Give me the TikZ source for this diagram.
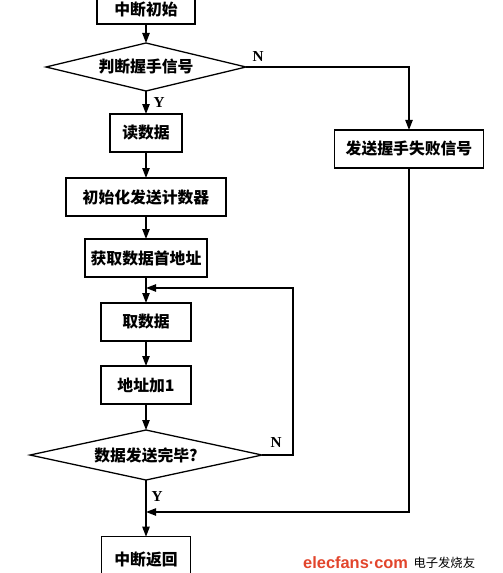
\documentclass[tikz,border=0pt]{standalone}
\usepackage{fontspec}
\setmainfont{Noto Sans CJK SC}
\newfontfamily\yn{Liberation Serif}
\newfontfamily\wmfont{Liberation Sans}
\usepackage{xcolor}
\usepackage{tikz}
\usetikzlibrary{positioning, arrows.meta, shapes.geometric, calc}

\definecolor{wmred}{HTML}{E2452C}

\begin{document}
\begin{tikzpicture}[
  x=0.03cm, y=-0.03cm,
  node distance=7.5mm,
  font=\fontsize{13.5}{15}\selectfont\bfseries,
  box/.style={draw, line width=1.1pt, align=center, inner sep=3pt, outer sep=0pt, minimum height=1.14cm},
  dec/.style={draw, diamond, aspect=4, line width=1.1pt, align=center, inner sep=0pt, outer sep=0pt},
  yn/.style={font=\yn\fontsize{13}{15}\selectfont\bfseries},
  arr/.style={-{Triangle[length=3mm, width=2.2mm]}, line width=1.1pt},
  ln/.style={line width=1.1pt}
]
\useasboundingbox (0,0) rectangle (502,573);

% Main column
\node[box, minimum width=2.94cm, minimum height=0.84cm] (start) at (146,10) {中断初始};
\node[dec, minimum width=6cm, minimum height=1.44cm, below=5.7mm of start] (hand) {判断握手信号};
\node[box, minimum width=2.16cm, below=6.9mm of hand] (read) {读数据};
\node[box, minimum width=4.8cm, below=7.8mm of read] (init) {初始化发送计数器};
\node[box, minimum width=3.66cm, below=6.9mm of init] (addr) {获取数据首地址};
\node[box, minimum width=2.7cm, below=7.8mm of addr] (fetch) {取数据};
\node[box, minimum width=2.7cm, below=7.5mm of fetch] (inc) {地址加1};
\node[dec, minimum width=6.96cm, minimum height=1.5cm, below=7.8mm of inc] (done) {数据发送完毕?};
\node[box, minimum width=2.67cm, minimum height=1.35cm, below=17mm of done] (ret) {中断返回};

% Failure branch
\node[box, minimum width=4.47cm] (fail) at (409,149) {发送握手失败信号};

% Join points
\coordinate (loop) at (addr.south |- 0,288);
\coordinate (merge) at (done.south |- 0,512);

% Main links
\draw[arr] (start) -- (hand);
\draw[arr] (hand) -- (read);
\draw[arr] (read) -- (init);
\draw[arr] (init) -- (addr);
\draw[arr] (addr) -- (fetch);
\draw[arr] (fetch) -- (inc);
\draw[arr] (inc) -- (done);
\draw[arr] (done) -- (ret);

% Branches
\draw[arr] (hand.east) -| (fail.north);
\draw[arr] (done.east) -| (293,288) -- (loop);
\draw[arr] (fail.south) |- (merge);

% Labels
\node[yn] (n1) at (258,57) {N};
\node[yn] (y1) at (159,103) {Y};
\node[yn] (n2) at (276,443) {N};
\node[yn] (y2) at (157,497) {Y};

% Watermark
\node[anchor=west, inner sep=0pt, text=wmred, font=\wmfont\fontsize{14}{16}\selectfont\bfseries] (wm) at (303,563) {elecfans·com};
\node[right=1.5mm of wm, inner sep=0pt, font=\fontsize{10.5}{12}\selectfont] (wmcn) {电子发烧友};

\end{tikzpicture}
\end{document}
